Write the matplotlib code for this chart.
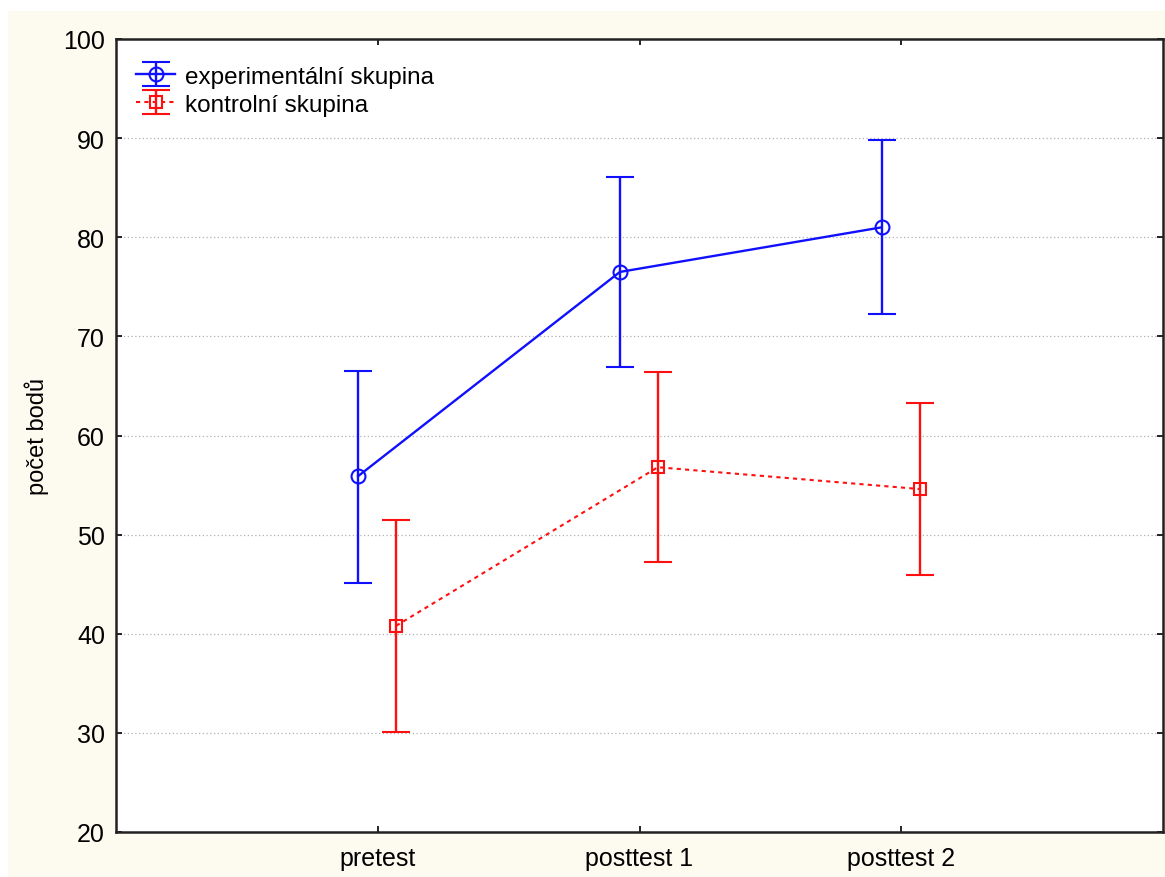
import numpy as np
import matplotlib.pyplot as plt
from matplotlib.patches import Rectangle

plt.rcParams['font.family'] = ['Liberation Sans', 'DejaVu Sans']

tests = ['pretest', 'posttest 1', 'posttest 2']

# experimentalni skupina
exp_mean = [55.9, 76.5, 81.0]
exp_low = [45.1, 66.9, 72.3]
exp_high = [66.5, 86.1, 89.8]

# kontrolni skupina
kon_mean = [40.8, 56.8, 54.6]
kon_low = [30.1, 47.2, 45.9]
kon_high = [51.5, 66.4, 63.3]

x = np.arange(1, len(tests) + 1)

fig = plt.figure(figsize=(11.65, 8.78), dpi=100)
fig.patch.set_facecolor('white')
fig.patches.append(Rectangle((8 / 1165, 0), 1, (878 - 12) / 878,
                             transform=fig.transFigure, facecolor='#fdfaef',
                             edgecolor='none', zorder=-10))
ax = fig.add_axes([116 / 1165, 45 / 878, (1163 - 116) / 1165, (833 - 40) / 878])
ax.set_facecolor('white')

em = np.array(exp_mean)
km = np.array(kon_mean)
exp_err = [em - np.array(exp_low), np.array(exp_high) - em]
kon_err = [km - np.array(kon_low), np.array(kon_high) - km]

ax.errorbar(x - 0.075, em, yerr=exp_err, color='#1010ff', marker='o',
            markersize=10, markerfacecolor='none', markeredgewidth=1.5,
            linewidth=1.7, capsize=10, capthick=1.7, elinewidth=1.7,
            label='experimentální skupina')
ax.errorbar(x + 0.07, km, yerr=kon_err, color='#ff1010', marker='s',
            markersize=9, markerfacecolor='none', markeredgewidth=1.5,
            linewidth=1.5, linestyle=(0, (2, 2)), capsize=10, capthick=1.7,
            elinewidth=1.7, label='kontrolní skupina')

ax.set_xlim(0, 4)
ax.set_ylim(20, 100)
ax.set_xticks(x)
ax.set_xticklabels(tests)
ax.set_yticks(range(20, 101, 10))
ax.tick_params(direction='in', labelsize=18, length=4, width=1.2,
               top=True, right=True)
ax.tick_params(axis='x', pad=10)
ax.tick_params(axis='y', pad=8)
ax.yaxis.grid(True, linestyle=(0, (1, 2)), color='#b0b0b0', linewidth=0.9)
for s in ax.spines.values():
    s.set_linewidth(1.8)
    s.set_color('#222222')
ax.set_ylabel('počet bodů', fontsize=17, labelpad=10)

ax.legend(loc='upper left', bbox_to_anchor=(-0.006, 1.0), frameon=False,
          fontsize=17.5, handlelength=1.6, borderaxespad=0.7,
          handletextpad=0.4, labelspacing=0.25)

fig.savefig('out.png', dpi=100)
